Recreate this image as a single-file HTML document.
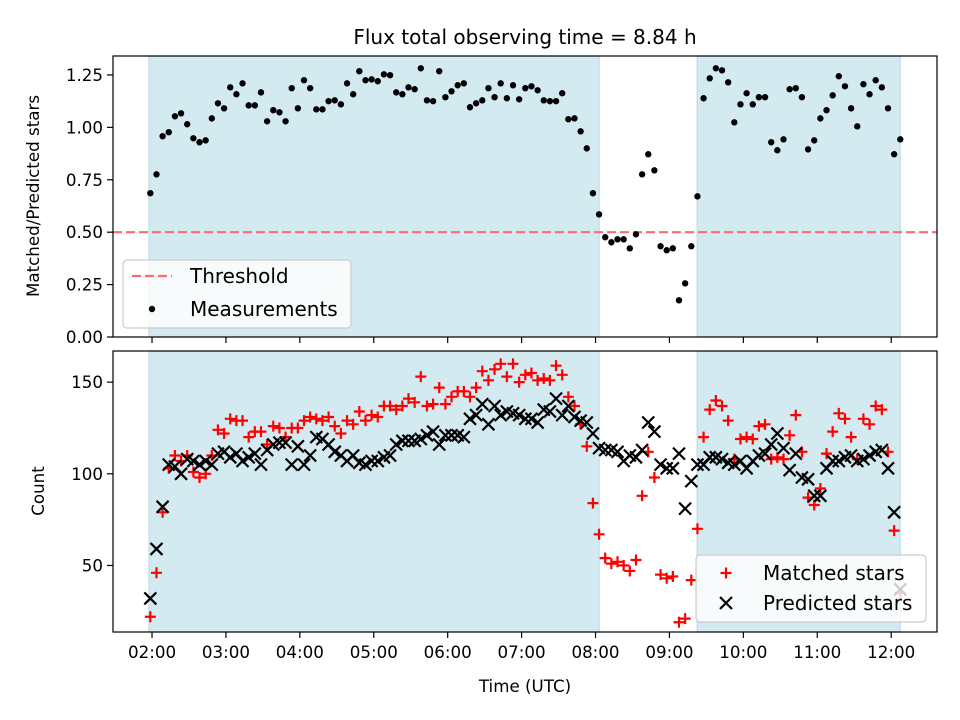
<!DOCTYPE html>
<html><head><meta charset="utf-8"><style>
body{margin:0;background:#fff}
svg{display:block;font-family:"DejaVu Sans","Liberation Sans",sans-serif}
</style></head><body>
<svg id="chart" width="960" height="720" viewBox="0 0 960 720" xmlns="http://www.w3.org/2000/svg">
<rect width="960" height="720" fill="#fff"/>
<text x="525" y="44" font-size="20" text-anchor="middle">Flux total observing time = 8.84 h</text>
<g id="top"></g>
<g id="bot"></g>
</svg>
<script>
const NS="http://www.w3.org/2000/svg";
const startHour=1.977, stepMin=4.99, nPts=123;
const ratio=[0.686,0.776,0.958,0.977,1.053,1.067,1.015,0.948,0.929,0.938,1.043,1.115,1.091,1.191,1.158,1.210,1.105,1.105,1.167,1.029,1.082,1.072,1.029,1.187,1.091,1.225,1.187,1.086,1.086,1.125,1.129,1.110,1.210,1.158,1.268,1.225,1.229,1.220,1.253,1.249,1.167,1.158,1.191,1.182,1.282,1.129,1.125,1.268,1.144,1.172,1.201,1.210,1.096,1.115,1.129,1.187,1.144,1.210,1.139,1.201,1.134,1.187,1.196,1.177,1.129,1.125,1.125,1.163,1.039,1.043,0.981,0.900,0.686,0.585,0.476,0.452,0.466,0.466,0.423,0.490,0.776,0.872,0.795,0.433,0.414,0.423,0.175,0.256,0.433,0.671,1.139,1.234,1.282,1.272,1.215,1.024,1.110,1.163,1.110,1.144,1.144,0.929,0.891,0.943,1.182,1.187,1.144,0.895,0.938,1.043,1.082,1.153,1.244,1.196,1.091,1.005,1.206,1.158,1.225,1.191,1.091,0.872,0.943];
const predicted=[32,59,82,105,104,100,108,107,105,107,105,111,112,109,111,107,109,111,105,113,116,117,117,105,115,105,110,120,119,116,112,110,107,110,106,105,107,107,109,110,116,118,118,118,119,121,123,116,121,121,121,120,130,132,138,127,137,132,134,133,132,130,130,128,135,134,141,132,137,131,129,128,122,114,113,113,112,107,110,109,113,128,123,105,103,103,111,81,96,105,105,109,109,108,106,105,107,103,107,110,111,116,122,114,102,111,98,97,88,88,103,107,107,109,110,107,108,110,112,113,103,79,37];
const matched=[22,46,79,103,110,107,110,101,98,100,110,124,122,130,129,129,120,123,123,116,126,125,120,125,125,129,131,130,129,131,126,122,129,127,134,129,132,131,137,137,135,137,141,139,153,137,138,147,138,142,145,145,142,147,156,151,157,160,153,160,150,154,155,151,152,151,159,154,142,137,127,115,84,67,54,51,52,50,47,53,88,112,98,45,43,44,19,21,42,70,120,135,140,137,129,108,119,120,119,126,127,108,109,108,121,132,112,87,83,92,111,123,133,130,120,108,130,127,137,135,112,69,35];
const xTickHours=[2,3,4,5,6,7,8,9,10,11,12];
const xTickLabels=["02:00","03:00","04:00","05:00","06:00","07:00","08:00","09:00","10:00","11:00","12:00"];
const topTicks=[0,0.25,0.5,0.75,1.0,1.25];
const topTickLabels=["0.00","0.25","0.50","0.75","1.00","1.25"];
const botTicks=[50,100,150];
const shadeStarts=[1.959,9.375];
const shadeEnds=[8.049,12.122];
const threshold=0.5;

const times=[];for(let i=0;i<nPts;i++)times.push(startHour+i*stepMin/60);
const X0=113,X1=937,xMin=1.472,xMax=12.62;
const xs=h=>X0+(h-xMin)/(xMax-xMin)*(X1-X0);
const T={y0:337,y1:56,min:0,max:1.3405};
const B={y0:632,y1:351,min:13.7,max:167};
const ys=(p,v)=>p.y0-(v-p.min)/(p.max-p.min)*(p.y0-p.y1);

function el(parent,tag,attrs){const e=document.createElementNS(NS,tag);for(const k in attrs)e.setAttribute(k,attrs[k]);parent.appendChild(e);return e;}

function panel(g,P){
  for(let i=0;i<shadeStarts.length;i++){
    const r=el(g,'rect',{x:xs(shadeStarts[i]),y:P.y1,width:xs(shadeEnds[i])-xs(shadeStarts[i]),height:P.y0-P.y1,fill:'#d4eaf1',stroke:'#bcdde8','stroke-width':1.2});
    
    
  }
}
function frame(g,P){
  const f=el(g,'rect',{x:X0,y:P.y1,width:X1-X0,height:P.y0-P.y1,fill:'none',stroke:'#000','stroke-width':1.2});
  
  
  xTickHours.forEach((h,i)=>{
    const t=el(g,'line',{x1:xs(h),x2:xs(h),y1:P.y0,y2:P.y0+6,stroke:'#000','stroke-width':1.2});
    
    
  });
}
const gt=document.getElementById('top'),gb=document.getElementById('bot');
panel(gt,T);panel(gb,B);
// threshold
const th=el(gt,'line',{x1:X0,x2:X1,y1:ys(T,threshold),y2:ys(T,threshold),stroke:'#ff6b6b','stroke-width':2.2,'stroke-dasharray':'9,4'});


ratio.forEach((v,i)=>{
  const c=el(gt,'circle',{cx:xs(times[i]),cy:ys(T,v),r:3.2,fill:'#000'});
  
  
});
matched.forEach((v,i)=>{
  const x=xs(times[i]),y=ys(B,v);
  const p=el(gb,'path',{d:`M${x-5.5},${y}H${x+5.5}M${x},${y-5.5}V${y+5.5}`,stroke:'#ff0000','stroke-width':2.2});
  
  
});
predicted.forEach((v,i)=>{
  const x=xs(times[i]),y=ys(B,v),d=6;
  const p=el(gb,'path',{d:`M${x-d},${y-d}L${x+d},${y+d}M${x-d},${y+d}L${x+d},${y-d}`,stroke:'#000','stroke-width':2.2});
  
  
});
frame(gt,T);frame(gb,B);
topTicks.forEach((v,i)=>{
  const y=ys(T,v);
  const t=el(gt,'line',{x1:X0-6,x2:X0,y1:y,y2:y,stroke:'#000','stroke-width':1.2});
  
  
  const l=el(gt,'text',{x:X0-10,y:y+6,'font-size':16.7,'text-anchor':'end'});l.textContent=topTickLabels[i];
  
  
});
botTicks.forEach(v=>{
  const y=ys(B,v);
  const t=el(gb,'line',{x1:X0-6,x2:X0,y1:y,y2:y,stroke:'#000','stroke-width':1.2});
  
  
  const l=el(gb,'text',{x:X0-10,y:y+6,'font-size':16.7,'text-anchor':'end'});l.textContent=String(v);
  
  
});
xTickHours.forEach((h,i)=>{
  const l=el(gb,'text',{x:xs(h),y:B.y0+26,'font-size':16.7,'text-anchor':'middle'});l.textContent=xTickLabels[i];
  
  
});
</script>
<svg style="position:absolute;left:0;top:0" width="960" height="720" xmlns="http://www.w3.org/2000/svg">
<text transform="translate(39,196) rotate(-90)" font-size="16.7" text-anchor="middle">Matched/Predicted stars</text>
<text transform="translate(44,491) rotate(-90)" font-size="16.7" text-anchor="middle">Count</text>
<text x="525" y="692" font-size="16.7" text-anchor="middle">Time (UTC)</text>
<g>
<rect x="123" y="260" width="228" height="68" rx="4" fill="#fff" fill-opacity="0.8" stroke="#ccc" stroke-width="1.2"/>
<line x1="132" y1="276" x2="172" y2="276" stroke="#ff6b6b" stroke-width="2.2" stroke-dasharray="9,4"/>
<text x="190" y="283" font-size="20">Threshold</text>
<circle cx="152" cy="309" r="3.2" fill="#000"/>
<text x="190" y="316" font-size="20">Measurements</text>
</g>
<g>
<rect x="696" y="555" width="230" height="67" rx="4" fill="#fff" fill-opacity="0.8" stroke="#ccc" stroke-width="1.2"/>
<path d="M720.5,573H731.5M726,567.5V578.5" stroke="#ff0000" stroke-width="2.2"/>
<text x="763" y="580" font-size="20">Matched stars</text>
<path d="M720,597L732,609M720,609L732,597" stroke="#000" stroke-width="2.2"/>
<text x="763" y="610" font-size="20">Predicted stars</text>
</g>
</svg>
</body></html>
